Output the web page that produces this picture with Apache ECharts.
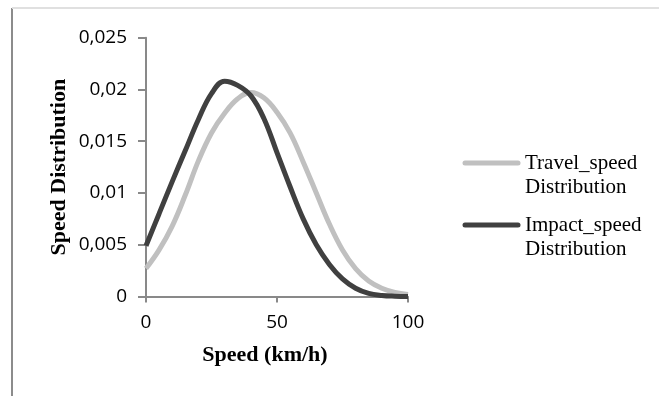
<!DOCTYPE html>
<html>
<head>
<meta charset="utf-8">
<script src="https://cdn.jsdelivr.net/npm/echarts@6/dist/echarts.min.js"></script>
<style>
  html, body { margin: 0; padding: 0; background: #ffffff; }
  #chart { width: 659px; height: 396px; }
</style>
</head>
<body>
<div id="chart"></div>
<script>
// Speed values (km/h) shared by both curves
const speeds = [0, 5, 10, 15, 20, 25, 30, 35, 40, 45, 50, 55, 60, 65, 70, 75, 80, 85, 90, 95, 100];

// Density of travel speeds
const travelSpeed = [0.0027, 0.0045, 0.0068, 0.0098, 0.0131, 0.0158, 0.0177, 0.0191, 0.0197, 0.0192,
                     0.0178, 0.0158, 0.0130, 0.0100, 0.0070, 0.0045, 0.0027, 0.0015, 0.0008, 0.0004, 0.0002];

// Density of impact speeds
const impactSpeed = [0.0049, 0.0080, 0.0111, 0.0141, 0.0171, 0.0196, 0.0208, 0.0204, 0.0194, 0.0172,
                     0.0139, 0.0106, 0.0075, 0.0050, 0.0031, 0.0017, 0.0008, 0.0003, 0.0001, 0.00003, 0.00001];

const seriesNames = ['Travel_speed\nDistribution', 'Impact_speed\nDistribution'];
const seriesColors = ['#c0c0c0', '#404040'];

const yTickLabels = ['0', '0,005', '0,01', '0,015', '0,02', '0,025'];
const xTickLabels = ['0', '50', '100'];

const pairs = vals => speeds.map((s, i) => [s, vals[i]]);

const chart = echarts.init(document.getElementById('chart'), null, { renderer: 'canvas' });

const tickFont = { fontFamily: 'Open Sans', fontSize: 19, color: '#000000' };
const titleFont = { fontFamily: 'Liberation Serif', fontWeight: 'bold', fontSize: 22, color: '#000000' };
const axisGray = '#898989';

// Legend drawn as graphic items so the key line sits on the first text line
const legendItems = [];
const legendTop = [151, 213];
seriesNames.forEach((name, i) => {
  legendItems.push({
    type: 'line',
    shape: { x1: 465, y1: legendTop[i] + 12, x2: 518, y2: legendTop[i] + 12 },
    style: { stroke: seriesColors[i], lineWidth: 5, lineCap: 'round' },
    silent: true
  });
  legendItems.push({
    type: 'text',
    x: 525,
    y: legendTop[i],
    style: {
      text: name,
      fontFamily: 'Liberation Serif',
      fontSize: 21,
      lineHeight: 24,
      fill: '#000000',
      verticalAlign: 'top'
    },
    silent: true
  });
});

chart.setOption({
  animation: false,
  backgroundColor: '#ffffff',
  grid: { left: 146, right: 251, top: 37.7, bottom: 99.5, containLabel: false },
  xAxis: {
    type: 'value',
    min: 0,
    max: 100,
    interval: 50,
    name: 'Speed (km/h)',
    nameLocation: 'middle',
    nameGap: 48,
    nameTextStyle: Object.assign({}, titleFont, { padding: [0, 24, 0, 0] }),
    axisLine: { show: true, lineStyle: { color: axisGray, width: 2 } },
    axisTick: { show: true, length: 6, lineStyle: { color: axisGray, width: 2 } },
    axisLabel: Object.assign({}, tickFont, {
      margin: 17,
      formatter: v => xTickLabels[Math.round(v / 50)]
    }),
    splitLine: { show: false }
  },
  yAxis: {
    type: 'value',
    min: 0,
    max: 0.025,
    interval: 0.005,
    name: 'Speed Distribution',
    nameLocation: 'middle',
    nameGap: 76,
    nameTextStyle: titleFont,
    axisLine: { show: true, lineStyle: { color: axisGray, width: 2 } },
    axisTick: { show: true, length: 8, lineStyle: { color: axisGray, width: 2 } },
    axisLabel: Object.assign({}, tickFont, {
      margin: 19,
      formatter: v => yTickLabels[Math.round(v / 0.005)]
    }),
    splitLine: { show: false }
  },
  series: [
    {
      name: seriesNames[0],
      type: 'line',
      data: pairs(travelSpeed),
      smooth: 0.4,
      symbol: 'none',
      lineStyle: { color: seriesColors[0], width: 5 },
      z: 2
    },
    {
      name: seriesNames[1],
      type: 'line',
      data: pairs(impactSpeed),
      smooth: 0.4,
      symbol: 'none',
      lineStyle: { color: seriesColors[1], width: 5 },
      z: 3
    }
  ],
  graphic: [
    // outer frame edges
    { type: 'line', shape: { x1: 12, y1: 8, x2: 12, y2: 396 }, style: { stroke: '#8c8c8c', lineWidth: 2 }, silent: true },
    { type: 'line', shape: { x1: 12, y1: 8, x2: 659, y2: 8 }, style: { stroke: '#e0e0e0', lineWidth: 2 }, silent: true }
  ].concat(legendItems)
});
</script>
</body>
</html>
